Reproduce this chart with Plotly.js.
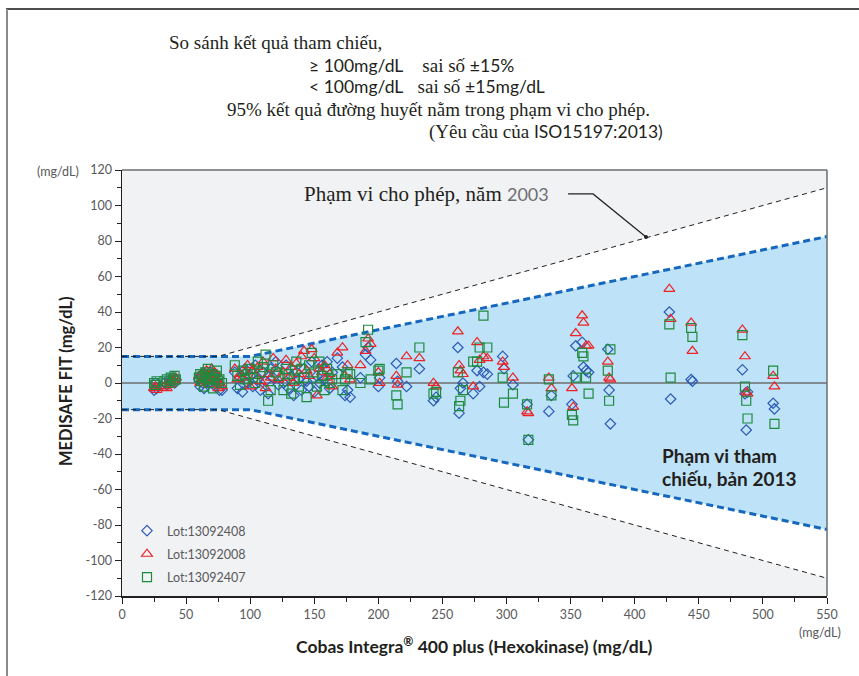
<!DOCTYPE html>
<html><head><meta charset="utf-8">
<script src="https://cdn.plot.ly/plotly-3.0.1.min.js"></script>
<style>html,body{margin:0;padding:0;background:#fff;} #chart{width:859px;height:676px;}</style>
</head><body><div id="chart"></div>
<script>
// Reference glucose (Cobas Integra, mg/dL) for each sample
const refGlucose = [25,26,27,33,35,37,38,40,41,42,
 60,61,62,63,64,65,66,67,68,69,70,71,72,73,74,75,76,78,
 88,90,92,94,96,98,100,102,104,106,108,110,112,114,116,118,120,122,
 126,128,130,132,134,136,138,140,142,144,146,148,150,152,154,156,158,160,162,164,
 168,172,174,176,178,186,190,192,194,200,
 201,214,215,222,232,243,245,262,263,264,266,274,277,279,282,285,297,298,305,316,317,333,335,351,352,354,359,360,362,364,379,380,381,427,428,444,445,484,486,487,488,508,509];
// Difference MEDISAFE FIT - reference (mg/dL), per lot
const lot13092408 = [-4,0,-3,0,-1,2,1,3,0,2,
 2,-2,4,0,-3,5,1,-1,3,6,0,2,4,-2,1,3,-4,-4,
 6,-3,3,-5,8,0,4,-2,10,2,-4,6,1,-6,8,3,12,-1,
 0,10,-3,4,-7,6,2,-4,8,1,-2,12,-5,4,0,10,2,12,-3,6,
 14,9,-7,-4,-8,3,16,20,13,-2,
 3,11,1,-2,8,-10,-8,20,-17,-3,0,-6,7,-2,6,5,15,8,-1,-12,-32,-16,-7,-12,4,21,23,9,7,6,19,-4,-23,40,-9,2,1,7.5,-6,-26.5,-5,-11.4,-14.6];
const lot13092008 = [-3,-2,-4,-2,-3,1,-1,2,1,3,
 4,0,2,6,3,1,7,4,-1,5,8,3,6,2,5,-3,0,-2,
 8,2,5,3,6,10,-2,7,4,9,1,12,-3,5,3,14,8,2,
 6,13,3,9,0,11,5,15,18,7,4,19,14,-7,8,6,10,3,5,-2,
 17,20,4,10,2,10,18,25,22,6,
 0,4,-1,15,14,0,-2,29,10,7,5,-2,23,13,15,14,12,9,3,-16,-17,3,-3,-3,-13.5,28,38,34,21,21,12,3,2,53,36,34,18,30,15,-5,-6,4,-2];
const lot13092407 = [0,-1,1,1,2,0,3,1,4,2,
 3,5,1,4,-2,6,2,8,0,3,5,-3,2,4,7,1,2,0,
 10,4,-1,7,2,5,8,3,0,12,6,9,16,-10,-4,10,6,4,
 -4,8,5,-6,2,12,-2,8,3,-8,10,17,6,-2,12,4,-4,8,0,2,
 5,-4,2,6,5,0,23,30,2,7,
 8,-7,-12,6,20,-6,-5,6,-13,-10,-4,12,12,20,38,20,3,-11,-6,-12,-32,2,-7,-18,-21,3,17,15,3,-6,7,-10,19,33,3,31,26,27,-2,-10,-20,7,-23];
const lotNames = ['Lot:13092408','Lot:13092008','Lot:13092407'];
// Limit lines (upper side; lower is mirrored)
const limit2013X = [0,100,550];
const limit2013Y = [15,15,82.5];
const limit2003X = [0,75,550];
const limit2003Y = [15,15,110];
const zeroLineX = [0,550];
const zeroLineY = [0,0];
const xTickVals = [0,50,100,150,200,250,300,350,400,450,500,550];
const xTickText = ['0','50','100','150','200','250','300','350','400','450','500','550'];
const yTickVals = [-120,-100,-80,-60,-40,-20,0,20,40,60,80,100,120];
const yTickText = ['-120','-100','-80','-60','-40','-20','0','20','40','60','80','100','120'];

const L=122, R=827, T=170, B=596;
const px = v => (v-L)/(R-L);
const py = v => (B-v)/(B-T);
const SANS = 'Lato, "Open Sans", sans-serif';
const SERIF = '"Liberation Serif", "DejaVu Serif", serif';

function band(xs, ys){
  const x = xs.concat(xs.slice().reverse());
  const y = ys.concat(ys.slice().reverse().map(v=>-v));
  return {x, y};
}
const b03 = band(limit2003X, limit2003Y);
const b13 = band(limit2013X, limit2013Y);

const traces = [
 {x:b03.x, y:b03.y, mode:'lines', fill:'toself', fillcolor:'#ffffff', line:{width:0}, hoverinfo:'skip', showlegend:false},
 {x:b13.x, y:b13.y, mode:'lines', fill:'toself', fillcolor:'#bee3f8', line:{width:0}, hoverinfo:'skip', showlegend:false},
 {x:zeroLineX, y:zeroLineY, mode:'lines', line:{color:'#6d6e71', width:1.6}, showlegend:false, hoverinfo:'skip'},
 {x:limit2013X, y:limit2013Y, mode:'lines', line:{color:'#1667be', width:3, dash:'7px,4px'}, showlegend:false},
 {x:limit2013X, y:limit2013Y.map(v=>-v), mode:'lines', line:{color:'#1667be', width:3, dash:'7px,4px'}, showlegend:false},
 {x:limit2003X, y:limit2003Y, mode:'lines', line:{color:'#231f20', width:1, dash:'5px,4px'}, showlegend:false},
 {x:limit2003X, y:limit2003Y.map(v=>-v), mode:'lines', line:{color:'#231f20', width:1, dash:'5px,4px'}, showlegend:false},
 {x:refGlucose, y:lot13092408, name:lotNames[0], mode:'markers', legendgroup:'a',
  marker:{symbol:'diamond-open', size:8, color:'#2b59b5', line:{width:1.2}}},
 {x:refGlucose, y:lot13092008, name:lotNames[1], mode:'markers', legendgroup:'b',
  marker:{symbol:'triangle-up-open', size:9.5, color:'#ec2227', line:{width:1.2}}},
 {x:refGlucose, y:lot13092407, name:lotNames[2], mode:'markers', legendgroup:'c',
  marker:{symbol:'square-open', size:9, color:'#1f8a3e', line:{width:1.2}}}
];

const tickFont = {family:SANS, size:12.5, color:'#58595b'};
const ann = [];
function A(text, x, y, opts){ ann.push(Object.assign({text, xref:'paper', yref:'paper', x:px(x), y:py(y), showarrow:false, xanchor:'left', yanchor:'middle', font:{family:SERIF, size:19, color:'#231f20'}}, opts||{})); }
const sp = s => `<span style="font-family:Lato;font-size:17.5px">${s}</span>`;
A('So sánh kết quả tham chiếu,', 167, 42);
A(sp('≥ 100mg/dL')+'\u00a0\u00a0\u00a0\u00a0sai số '+sp('±15%'), 307, 65);
A(sp('&lt; 100mg/dL')+'\u00a0\u00a0\u00a0sai số '+sp('±15mg/dL'), 307, 87);
A('95% kết quả đường huyết nằm trong phạm vi cho phép.', 225, 110);
A('(Yêu cầu của '+sp('ISO15197:2013)'), 665, 132, {xanchor:'right'});
A('Phạm vi cho phép, năm <span style="font-family:Lato;font-size:18px;fill:#6d6e71">2003</span>', 551, 194, {xanchor:'right', font:{family:SERIF, size:21, color:'#231f20'}});
A('<b>Phạm vi tham</b>', 660, 455, {font:{family:SANS, size:19, color:'#231f20'}});
A('<b>chiếu, bản 2013</b>', 660, 478, {font:{family:SANS, size:19, color:'#231f20'}});
A('(mg/dL)', 81, 172, {xanchor:'right', font:tickFont});
A('(mg/dL)', 820, 632, {xanchor:'center', font:tickFont});
A('<b>MEDISAFE FIT (mg/dL)</b>', 66, 381, {xanchor:'center', textangle:-90, font:{family:SANS, size:16.5, color:'#231f20'}});
A('<b>Cobas Integra<sup>®</sup> 400 plus (Hexokinase) (mg/dL)</b>', 474, 645, {xanchor:'center', font:{family:SANS, size:17.5, color:'#231f20'}});

const shapes = [
 {type:'line', xref:'paper', yref:'paper', x0:0, x1:1, y0:1, y1:1, line:{color:'#6d6e71', width:1.5}},
 {type:'line', xref:'paper', yref:'paper', x0:1, x1:1, y0:0, y1:1, line:{color:'#6d6e71', width:1.5}},
 {type:'line', xref:'paper', yref:'paper', x0:px(6), x1:px(859), y0:py(9), y1:py(9), line:{color:'#4d4d4d', width:2}},
 {type:'line', xref:'paper', yref:'paper', x0:px(7), x1:px(7), y0:py(9), y1:py(676), line:{color:'#8a8a8a', width:2}},
 {type:'path', xref:'x', yref:'y', path:'M 348,106.5 L 367.5,106.5 L 408.8,82.3', line:{color:'#231f20', width:1.2}},
 {type:'circle', xref:'x', yref:'y', xsizemode:'pixel', ysizemode:'pixel', xanchor:408.8, yanchor:82.3, x0:-2, x1:2, y0:-2, y1:2, fillcolor:'#231f20', line:{width:0}}
];

const layout = {
 width:859, height:676,
 margin:{l:L, r:859-R, t:T, b:676-B},
 paper_bgcolor:'#ffffff', plot_bgcolor:'#f1f2f4',
 showlegend:true,
 legend:{x:px(127), y:py(516), xanchor:'left', yanchor:'top', bgcolor:'rgba(0,0,0,0)', font:{family:SANS, size:12.5, color:'#58595b'}, tracegroupgap:4},
 xaxis:{range:[0,550], tickmode:'array', tickvals:xTickVals, ticktext:xTickText, showgrid:false, zeroline:false,
   showline:true, linecolor:'#231f20', linewidth:1.5, ticks:'outside', ticklen:6, tickwidth:1, tickcolor:'#231f20', tickfont:tickFont,
   minor:{tickmode:'linear', tick0:0, dtick:25, ticks:'outside', ticklen:4, tickwidth:1, tickcolor:'#231f20'}},
 yaxis:{range:[-120,120], tickmode:'array', tickvals:yTickVals, ticktext:yTickText, showgrid:false, zeroline:false,
   showline:true, linecolor:'#231f20', linewidth:1.5, ticks:'outside', ticklen:6, tickwidth:1, tickcolor:'#231f20', tickfont:tickFont,
   minor:{tickmode:'linear', tick0:0, dtick:10, ticks:'outside', ticklen:4, tickwidth:1, tickcolor:'#231f20'}},
 annotations:ann, shapes:shapes
};
Plotly.newPlot('chart', traces, layout, {staticPlot:true, displayModeBar:false});
</script></body></html>
